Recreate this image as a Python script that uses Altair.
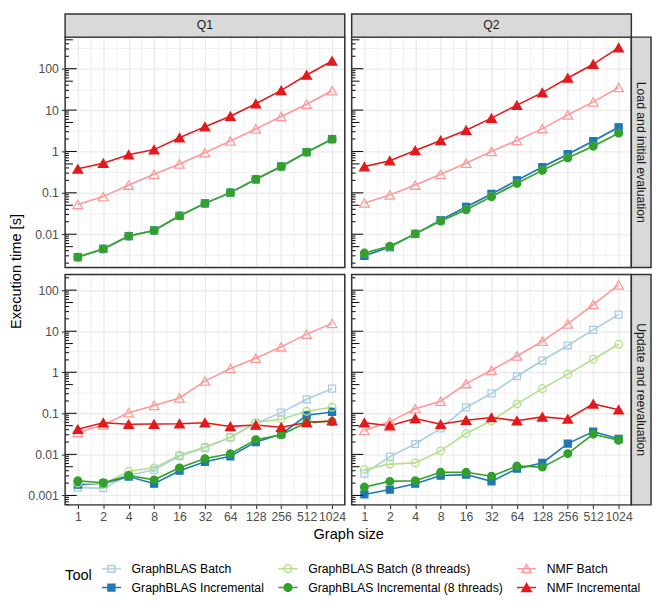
import math
import numpy as np
import pandas as pd
import altair as alt

FONT = "Liberation Sans"
W, H, GAP = 284, 234, 7
STRIP_H, STRIP_W = 23.5, 20
SMALL, BIG = 12.4, 14.8

sizes = [1, 2, 4, 8, 16, 32, 64, 128, 256, 512, 1024]
queries = ["Q1", "Q2"]
phases = ["Load and initial evaluation", "Update and reevaluation"]
tools = [
    "GraphBLAS Batch",
    "GraphBLAS Incremental",
    "GraphBLAS Batch (8 threads)",
    "GraphBLAS Incremental (8 threads)",
    "NMF Batch",
    "NMF Incremental",
]
tool_colors = ["#A6CEE3", "#1F78B4", "#B2DF8A", "#33A02C", "#FB9A99", "#E31A1C"]
tool_hollow = [True, False, True, False, True, False]
tool_shapes = ["square", "square", "circle", "circle", "triangle-up", "triangle-up"]
shape_sizes = {"square": 50, "circle": 60, "triangle-up": 95}

# ---- Q1, load and initial evaluation ----
q1_load_gb = [0.0028, 0.0044, 0.0090, 0.0123, 0.0279, 0.0556, 0.101, 0.213, 0.434, 0.96, 1.99]
q1_load_gb_8t = [0.0028, 0.0044, 0.0090, 0.0123, 0.0279, 0.0556, 0.101, 0.213, 0.434, 0.96, 1.99]
q1_load_nmf_batch = [0.052, 0.081, 0.154, 0.28, 0.50, 0.93, 1.79, 3.5, 7.0, 13.9, 29.4]
q1_load_nmf_incr = [0.38, 0.52, 0.83, 1.11, 2.14, 3.98, 7.1, 14.2, 29.9, 70.5, 154]

# ---- Q2, load and initial evaluation ----
q2_load_gb = [0.0030, 0.0049, 0.0102, 0.022, 0.0455, 0.094, 0.20, 0.42, 0.86, 1.79, 3.84]
q2_load_gb_8t = [0.0035, 0.0051, 0.0102, 0.0208, 0.039, 0.081, 0.169, 0.35, 0.70, 1.34, 2.77]
q2_load_nmf_batch = [0.057, 0.089, 0.154, 0.28, 0.52, 1.0, 1.85, 3.57, 7.66, 15.8, 35.2]
q2_load_nmf_incr = [0.43, 0.60, 1.06, 1.85, 3.26, 6.4, 13.2, 26.5, 59.7, 128, 324]

# ---- Q1, update and reevaluation ----
q1_upd_gb_batch = [0.00155, 0.0015, 0.00305, 0.0042, 0.0091, 0.0144, 0.0259, 0.057, 0.104, 0.22, 0.40]
q1_upd_gb_incr = [0.00183, 0.00193, 0.00289, 0.00193, 0.0040, 0.0066, 0.0090, 0.020, 0.031, 0.0895, 0.108]
q1_upd_gb_batch_8t = [0.0020, 0.00186, 0.0039, 0.0047, 0.0096, 0.0152, 0.0259, 0.060, 0.072, 0.112, 0.14]
q1_upd_gb_incr_8t = [0.00228, 0.00204, 0.00305, 0.0024, 0.0047, 0.0079, 0.0104, 0.0228, 0.030, 0.060, 0.063]
q1_upd_nmf_batch = [0.034, 0.052, 0.104, 0.155, 0.236, 0.61, 1.24, 2.19, 4.16, 8.5, 15.5]
q1_upd_nmf_incr = [0.041, 0.059, 0.054, 0.0547, 0.0557, 0.059, 0.048, 0.052, 0.046, 0.060, 0.066]

# ---- Q2, update and reevaluation ----
q2_upd_gb_batch = [0.0034, 0.0088, 0.0179, 0.043, 0.139, 0.305, 0.80, 1.93, 4.48, 10.8, 25.4]
q2_upd_gb_incr = [0.00106, 0.00139, 0.00193, 0.00305, 0.00322, 0.0022, 0.0045, 0.0062, 0.0183, 0.036, 0.024]
q2_upd_gb_batch_8t = [0.0043, 0.0058, 0.0062, 0.0122, 0.0322, 0.0657, 0.17, 0.40, 0.90, 2.08, 4.8]
q2_upd_gb_incr_8t = [0.0016, 0.0022, 0.00228, 0.00366, 0.00366, 0.00294, 0.0052, 0.0049, 0.0104, 0.031, 0.022]
q2_upd_nmf_batch = [0.038, 0.062, 0.129, 0.197, 0.53, 1.12, 2.49, 5.7, 15.0, 44.7, 134]
q2_upd_nmf_incr = [0.059, 0.050, 0.0746, 0.054, 0.068, 0.0788, 0.066, 0.0818, 0.073, 0.17, 0.122]

series = {
    ("Q1", phases[0]): [q1_load_gb, q1_load_gb, q1_load_gb_8t, q1_load_gb_8t, q1_load_nmf_batch, q1_load_nmf_incr],
    ("Q2", phases[0]): [q2_load_gb, q2_load_gb, q2_load_gb_8t, q2_load_gb_8t, q2_load_nmf_batch, q2_load_nmf_incr],
    ("Q1", phases[1]): [q1_upd_gb_batch, q1_upd_gb_incr, q1_upd_gb_batch_8t, q1_upd_gb_incr_8t, q1_upd_nmf_batch, q1_upd_nmf_incr],
    ("Q2", phases[1]): [q2_upd_gb_batch, q2_upd_gb_incr, q2_upd_gb_batch_8t, q2_upd_gb_incr_8t, q2_upd_nmf_batch, q2_upd_nmf_incr],
}

rows = []
for (q, ph), lists in series.items():
    for t, vals in zip(tools, lists):
        for s, v in zip(sizes, vals):
            rows.append({"query": q, "phase": ph, "tool": t, "size": s, "lx": float(np.log2(s)), "time": v})
df = pd.DataFrame(rows)


def log_domain(vals):
    lo, hi = math.log10(min(vals)), math.log10(max(vals))
    r = hi - lo
    return [10 ** (lo - 0.05 * r), 10 ** (hi + 0.05 * r)]


domains = {ph: log_domain(df[df.phase == ph]["time"].tolist()) for ph in phases}

color_of = dict(zip(tools, tool_colors))
hollow_of = dict(zip(tools, tool_hollow))
STROKE_SCALE = alt.Scale(domain=tools, range=tool_colors)
FILL_SCALE = alt.Scale(domain=tools, range=["transparent" if h else c for c, h in zip(tool_colors, tool_hollow)])

# legend symbols: a short line with the marker on it
SQ = "M-1,0H1M-0.36,-0.36H0.36V0.36H-0.36Z"
CI = "M-1,0H1M0.4,0A0.4,0.4,0,1,1,-0.4,0A0.4,0.4,0,1,1,0.4,0Z"
TR = "M-1,0H1M0,-0.42L0.48,0.4H-0.48Z"
legend_paths = {"square": SQ, "circle": CI, "triangle-up": TR}
SHAPE_SCALE = alt.Scale(domain=tools, range=[legend_paths[s] for s in tool_shapes])

LEG = alt.Legend(
    title="Tool", orient="none", legendX=0, legendY=529, columns=3,
    titleOrient="left", titleAnchor="middle", titleBaseline="middle",
    titleFont=FONT, titleFontSize=BIG, titleFontWeight="normal", titleColor="#000000",
    titlePadding=8.5, labelFont=FONT, labelFontSize=SMALL, labelColor="#000000",
    labelLimit=400, labelOffset=10, symbolSize=380, symbolStrokeWidth=1.5, symbolOpacity=1,
    symbolFillColor="#000000", symbolStrokeColor="#000000",
    columnPadding=10.3, rowPadding=1.5, padding=0,
)

IS_INT = "datum.value % 1 == 0"
IS_MAJOR_Y = "abs(log(datum.value) / LN10 - round(log(datum.value) / LN10)) < 0.01"


def x_axis(row, col):
    vals = [i / 2 for i in range(0, 21)]
    a = dict(values=vals, grid=True, gridColor="#EBEBEB",
             gridWidth={"condition": {"test": IS_INT, "value": 1.4}, "value": 0.7},
             domain=False, labelOverlap=False, labelFlush=False)
    if row == 1:
        a.update(labels=True, labelExpr=f"{IS_INT} ? '' + pow(2, datum.value) : ''",
                 labelFont=FONT, labelFontSize=SMALL, labelColor="#4D4D4D", labelPadding=2.5,
                 ticks=True, tickSize=3.8, tickWidth=1.1, tickColor="#333333",
                 tickOpacity={"condition": {"test": IS_INT, "value": 1}, "value": 0})
        if col == 0:
            a.update(title="Graph size", titleX=W + GAP / 2, titleAlign="center", titleFont=FONT,
                     titleFontSize=BIG, titleFontWeight="normal", titleColor="#000000", titlePadding=3)
        else:
            a.update(title="")
    else:
        a.update(labels=False, ticks=False, title="")
    return alt.Axis(**a)


def y_axis(row, col, lo, hi):
    kmin, kmax = math.floor(math.log10(lo)), math.ceil(math.log10(hi))
    vals = []
    for k in range(kmin, kmax + 1):
        for v in (10.0 ** k, 10.0 ** (k + 0.5)):
            if lo < v < hi:
                vals.append(v)
    a = dict(values=vals, grid=True, gridColor="#EBEBEB",
             gridWidth={"condition": {"test": IS_MAJOR_Y, "value": 1.4}, "value": 0.7},
             domain=False, labelOverlap=False, labelFlush=False)
    if col == 0:
        a.update(labels=True, labelExpr=f"{IS_MAJOR_Y} ? format(datum.value, '~g') : ''",
                 labelFont=FONT, labelFontSize=SMALL, labelColor="#4D4D4D", labelPadding=3,
                 ticks=True, tickSize=3.8, tickWidth=1.1, tickColor="#333333",
                 tickOpacity={"condition": {"test": IS_MAJOR_Y, "value": 1}, "value": 0})
        if row == 0:
            a.update(title="Execution time [s]", titleX=-42, titleY=H + GAP / 2, titleAngle=270,
                     titleAlign="center", titleBaseline="bottom", titleFont=FONT, titleFontSize=BIG,
                     titleFontWeight="normal", titleColor="#000000")
        else:
            a.update(title="")
    else:
        a.update(labels=False, ticks=False, title="")
    return alt.Axis(**a)


def logticks(lo, hi):
    out = {"long": [], "mid": [], "short": []}
    for k in range(math.floor(math.log10(lo)), math.ceil(math.log10(hi)) + 1):
        for m in range(1, 10):
            v = m * 10.0 ** k
            if lo <= v <= hi:
                kind = "long" if m == 1 else ("mid" if m == 5 else "short")
                out[kind].append(v)
    return out


TICK_LEN = {"long": 11.8, "mid": 7.9, "short": 3.9}


def panel(q, ph, row, col):
    lo, hi = domains[ph]
    d = df[(df["query"] == q) & (df["phase"] == ph)]
    xenc = alt.X("lx:Q", scale=alt.Scale(domain=[-0.5, 10.5], nice=False, zero=False), axis=x_axis(row, col))
    yenc = alt.Y("time:Q", scale=alt.Scale(type="log", domain=[lo, hi], nice=False), axis=y_axis(row, col, lo, hi))
    layers = []
    if row == 0 and col == 0:
        # zero-size layer, first in order, that only carries the legend
        layers.append(
            alt.Chart(d).mark_point(size=0, strokeWidth=1.5, opacity=1).encode(
                x=xenc, y=yenc,
                fill=alt.Fill("tool:N", scale=FILL_SCALE, legend=LEG),
                stroke=alt.Stroke("tool:N", scale=STROKE_SCALE, legend=LEG),
                shape=alt.Shape("tool:N", scale=SHAPE_SCALE, legend=LEG),
            )
        )
    for t in tools:
        layers.append(
            alt.Chart(d[d["tool"] == t]).mark_line(strokeWidth=1.6).encode(
                x=xenc, y=yenc, stroke=alt.Stroke("tool:N", scale=STROKE_SCALE, legend=None)
            )
        )
    for t, shp in zip(tools, tool_shapes):
        layers.append(
            alt.Chart(d[d["tool"] == t]).mark_point(shape=shp, size=shape_sizes[shp], strokeWidth=1.3, opacity=1).encode(
                x=xenc, y=yenc,
                stroke=alt.Stroke("tool:N", scale=STROKE_SCALE, legend=None),
                fill=alt.Fill("tool:N", scale=FILL_SCALE, legend=None),
            )
        )
    lt = logticks(lo, hi)
    for kind, vals in lt.items():
        layers.append(
            alt.Chart(pd.DataFrame({"time": vals})).mark_rule(color="#000000", strokeWidth=1).encode(
                x=alt.value(0), x2=alt.value(TICK_LEN[kind]), y=yenc
            )
        )
    dummy = pd.DataFrame({"label": [q]})
    layers.append(
        alt.Chart(dummy).mark_rect(fillOpacity=0, stroke="#333333", strokeWidth=1.5).encode(
            x=alt.value(0), x2=alt.value(W), y=alt.value(0), y2=alt.value(H)
        )
    )
    if row == 0:
        layers.append(
            alt.Chart(dummy).mark_rect(fill="#D9D9D9", stroke="#333333", strokeWidth=1.5).encode(
                x=alt.value(0), x2=alt.value(W), y=alt.value(-STRIP_H), y2=alt.value(0)
            )
        )
        layers.append(
            alt.Chart(dummy).mark_text(font=FONT, fontSize=SMALL, color="#1A1A1A", align="center", baseline="middle").encode(
                text="label:N", x=alt.value(W / 2), y=alt.value(-STRIP_H / 2)
            )
        )
    if col == 1:
        rdummy = pd.DataFrame({"label": [ph]})
        layers.append(
            alt.Chart(rdummy).mark_rect(fill="#D9D9D9", stroke="#333333", strokeWidth=1.5).encode(
                x=alt.value(W), x2=alt.value(W + STRIP_W), y=alt.value(0), y2=alt.value(H)
            )
        )
        layers.append(
            alt.Chart(rdummy).mark_text(font=FONT, fontSize=SMALL, color="#1A1A1A", align="center", baseline="middle", angle=90).encode(
                text="label:N", x=alt.value(W + STRIP_W / 2), y=alt.value(H / 2)
            )
        )
    return alt.layer(*layers).properties(width=W, height=H)


panels = []
for r, ph in enumerate(phases):
    for c, q in enumerate(queries):
        panels.append(panel(q, ph, r, c))

chart = (
    alt.concat(*panels, columns=2, spacing=GAP, bounds="flush")
    .properties(padding={"left": 0, "top": 0, "right": 0, "bottom": 0}, background="white")
    .configure_view(stroke="transparent")
    .configure(font=FONT)
)

chart.save("out.html", embed_options={"renderer": "svg", "actions": False})
